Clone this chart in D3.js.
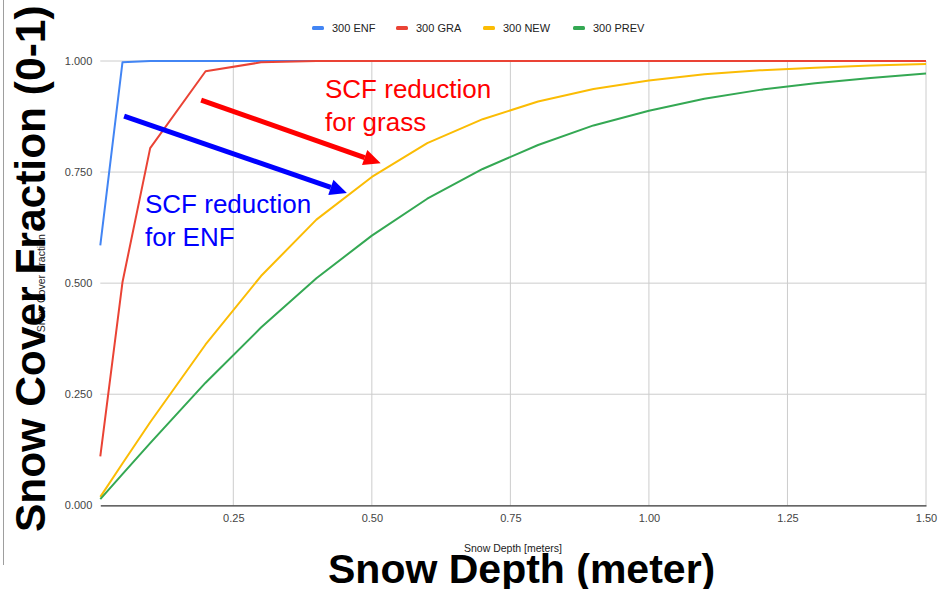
<!DOCTYPE html>
<html>
<head>
<meta charset="utf-8">
<script src="https://cdn.jsdelivr.net/npm/d3@7/dist/d3.min.js"></script>
<style>
  html, body { margin: 0; padding: 0; background: #fff; }
  svg { display: block; font-family: Arial, "Liberation Sans", sans-serif; }
</style>
</head>
<body>
<svg id="chart" width="939" height="589"></svg>
<script>
// Snow depth sample points (m)
const depth = [0.01, 0.05, 0.1, 0.2, 0.3, 0.4, 0.5, 0.6, 0.7, 0.8, 0.9, 1.0, 1.1, 1.2, 1.3, 1.4, 1.5];

// Snow cover fraction per scheme
const enf  = [0.585, 0.997, 1.0, 1.0, 1.0, 1.0, 1.0, 1.0, 1.0, 1.0, 1.0, 1.0, 1.0, 1.0, 1.0, 1.0, 1.0];
const gra  = [0.11, 0.502, 0.804, 0.977, 0.997, 1.0, 1.0, 1.0, 1.0, 1.0, 1.0, 1.0, 1.0, 1.0, 1.0, 1.0, 1.0];
const nw   = [0.019, 0.094, 0.187, 0.362, 0.516, 0.643, 0.739, 0.815, 0.869, 0.909, 0.937, 0.956, 0.970, 0.979, 0.985, 0.990, 0.993];
const prev = [0.014, 0.070, 0.140, 0.276, 0.400, 0.511, 0.607, 0.690, 0.757, 0.811, 0.855, 0.888, 0.915, 0.935, 0.950, 0.962, 0.972];

const seriesNames  = ["300 ENF", "300 GRA", "300 NEW", "300 PREV"];
const seriesColors = ["#4285F4", "#EA4335", "#FBBC04", "#34A853"];
const seriesValues = [enf, gra, nw, prev];

const xTicks = [0.25, 0.5, 0.75, 1.0, 1.25, 1.5];
const yTicks = [0, 0.25, 0.5, 0.75, 1.0];

// Annotation arrows in data units: [x0, y0, x1, y1]
const arrowEnf   = [0.053, 0.876, 0.455, 0.703];
const arrowGrass = [0.192, 0.912, 0.516, 0.770];

const svg = d3.select("#chart");

const x = d3.scaleLinear().domain([0.01, 1.5]).range([100.3, 926]);
const y = d3.scaleLinear().domain([0, 1]).range([505.3, 61]);

// left frame line
svg.append("line")
  .attr("x1", 3.5).attr("x2", 3.5).attr("y1", 0).attr("y2", 565)
  .attr("stroke", "#9e9e9e").attr("stroke-width", 1);

// horizontal gridlines
svg.append("g")
  .selectAll("line")
  .data(yTicks.filter(d => d > 0))
  .join("line")
  .attr("x1", x(0.01)).attr("x2", x(1.5))
  .attr("y1", d => y(d)).attr("y2", d => y(d))
  .attr("stroke", "#cccccc").attr("stroke-width", 1);

// vertical gridlines
svg.append("g")
  .selectAll("line")
  .data(xTicks)
  .join("line")
  .attr("x1", d => x(d)).attr("x2", d => x(d))
  .attr("y1", y(1)).attr("y2", y(0))
  .attr("stroke", "#cccccc").attr("stroke-width", 1);

// x axis
const xAxis = svg.append("g")
  .attr("transform", `translate(0,${y(0)})`)
  .call(d3.axisBottom(x).tickValues(xTicks).tickFormat(d3.format(".2f")).tickSize(0).tickPadding(9));
xAxis.select(".domain").attr("stroke", "#333").attr("stroke-width", 1.3);
xAxis.selectAll("text").attr("font-size", 11).attr("fill", "#444")
  .attr("font-family", "Arial, 'Liberation Sans', sans-serif");

// y axis
const yAxis = svg.append("g")
  .attr("transform", `translate(${x(0.01)},0)`)
  .call(d3.axisLeft(y).tickValues(yTicks).tickFormat(d3.format(".3f")).tickSize(0).tickPadding(8));
yAxis.select(".domain").remove();
yAxis.selectAll("text").attr("font-size", 11).attr("fill", "#444")
  .attr("font-family", "Arial, 'Liberation Sans', sans-serif");

// series lines
const line = d3.line().x((d, i) => x(depth[i])).y(d => y(d));
svg.append("g")
  .selectAll("path")
  .data(seriesValues)
  .join("path")
  .attr("d", d => line(d))
  .attr("fill", "none")
  .attr("stroke", (d, i) => seriesColors[i])
  .attr("stroke-width", 2)
  .attr("stroke-linejoin", "round");

// legend
const legendX = [312, 396, 483, 573];
const legend = svg.append("g");
seriesNames.forEach((name, i) => {
  legend.append("rect")
    .attr("x", legendX[i]).attr("y", 26).attr("width", 12).attr("height", 4).attr("rx", 1.5)
    .attr("fill", seriesColors[i]);
  legend.append("text")
    .attr("x", legendX[i] + 20).attr("y", 32)
    .attr("font-size", 11).attr("fill", "#222")
    .text(name);
});

// small axis titles
svg.append("text")
  .attr("x", 513).attr("y", 552)
  .attr("text-anchor", "middle").attr("font-size", 10.5).attr("fill", "#222")
  .text("Snow Depth [meters]");
svg.append("text")
  .attr("transform", `translate(45,${(y(0) + y(1)) / 2}) rotate(-90)`)
  .attr("text-anchor", "middle").attr("font-size", 10.5).attr("fill", "#222")
  .text("Snow Cover Fraction");

// large axis titles
svg.append("text")
  .attr("transform", "translate(45,532) rotate(-90)")
  .attr("text-anchor", "start").attr("font-size", 42.5).attr("font-weight", "bold").attr("fill", "#000")
  .text("Snow Cover Fraction (0-1)");
svg.append("text")
  .attr("x", 328).attr("y", 583)
  .attr("text-anchor", "start").attr("font-size", 41).attr("font-weight", "bold").attr("fill", "#000")
  .text("Snow Depth (meter)");

// annotation arrows
function drawArrow(a, color) {
  const x0 = x(a[0]), y0 = y(a[1]), x1 = x(a[2]), y1 = y(a[3]);
  const ang = Math.atan2(y1 - y0, x1 - x0);
  const headLen = 17, headHalf = 8;
  const bx = x1 - headLen * Math.cos(ang), by = y1 - headLen * Math.sin(ang);
  svg.append("line")
    .attr("x1", x0).attr("y1", y0).attr("x2", bx).attr("y2", by)
    .attr("stroke", color).attr("stroke-width", 5);
  const px = -Math.sin(ang), py = Math.cos(ang);
  svg.append("path")
    .attr("d", `M${x1},${y1}L${bx + px * headHalf},${by + py * headHalf}L${bx - px * headHalf},${by - py * headHalf}Z`)
    .attr("fill", color);
}
drawArrow(arrowEnf, "#0000FF");
drawArrow(arrowGrass, "#FF0000");

// annotation labels
function drawNote(lines, px, py, color) {
  const t = svg.append("text").attr("font-size", 26).attr("fill", color);
  lines.forEach((s, i) => {
    t.append("tspan").attr("x", px).attr("y", py + i * 32.5).text(s);
  });
}
drawNote(["SCF reduction", "for ENF"], 145, 213, "#0000FF");
drawNote(["SCF reduction", "for grass"], 325, 98, "#FF0000");
</script>
</body>
</html>
